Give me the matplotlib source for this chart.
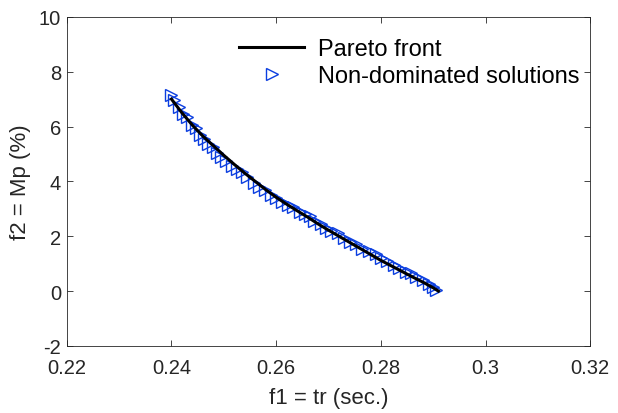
import numpy as np
import matplotlib.pyplot as plt

plt.rcParams['font.family'] = ['Liberation Sans', 'DejaVu Sans']
plt.rcParams['axes.unicode_minus'] = False

# pareto front (black line)
front_f1 = [0.240, 0.242, 0.244, 0.246, 0.248, 0.250, 0.252, 0.254, 0.256, 0.258,
            0.260, 0.262, 0.264, 0.266, 0.268, 0.270, 0.272, 0.274, 0.276, 0.278,
            0.280, 0.282, 0.284, 0.286, 0.288, 0.290, 0.291]
front_f2 = [7.00, 6.50, 6.05, 5.65, 5.30, 4.95, 4.62, 4.30, 4.00, 3.70,
            3.42, 3.17, 2.93, 2.70, 2.45, 2.22, 2.00, 1.78, 1.56, 1.34,
            1.12, 0.92, 0.72, 0.52, 0.33, 0.12, 0.00]

# non-dominated solutions (blue triangles)
sol_f1 = [0.2400, 0.2405, 0.2415, 0.2422, 0.2430, 0.2440, 0.2447, 0.2455, 0.2462, 0.2470,
          0.2480, 0.2488, 0.2495, 0.2505, 0.2515, 0.2525, 0.2535, 0.2545, 0.2558, 0.2568,
          0.2578, 0.2590, 0.2600, 0.2612, 0.2622, 0.2632, 0.2645, 0.2655, 0.2665, 0.2672,
          0.2685, 0.2695, 0.2705, 0.2718, 0.2730, 0.2742, 0.2752, 0.2765, 0.2778, 0.2790,
          0.2800, 0.2812, 0.2825, 0.2835, 0.2848, 0.2858, 0.2868, 0.2880, 0.2892, 0.2900,
          0.2905]
sol_f2 = [7.15, 6.95, 6.70, 6.45, 6.35, 6.05, 5.95, 5.70, 5.55, 5.35,
          5.25, 5.05, 4.90, 4.75, 4.55, 4.45, 4.35, 4.15, 3.95, 3.80,
          3.70, 3.50, 3.40, 3.25, 3.15, 3.05, 2.90, 2.80, 2.75, 2.55,
          2.45, 2.30, 2.20, 2.10, 1.95, 1.80, 1.70, 1.55, 1.45, 1.35,
          1.20, 1.10, 0.95, 0.85, 0.70, 0.65, 0.50, 0.40, 0.25, 0.15,
          0.05]

xticks = [0.22, 0.24, 0.26, 0.28, 0.3, 0.32]
xtick_labels = ['0.22', '0.24', '0.26', '0.28', '0.3', '0.32']
yticks = [-2, 0, 2, 4, 6, 8, 10]

fig = plt.figure(figsize=(6.18, 4.14), dpi=100)
ax = fig.add_axes([0.108, 0.162, 0.847, 0.795])

ax.plot(front_f1, front_f2, color='black', lw=2.2, label='Pareto front', zorder=3)
ax.plot(sol_f1, sol_f2, ls='none', marker='>', ms=9, mfc='none', mec='#0b3ee0',
        mew=1.0, label='Non-dominated solutions', zorder=2)

ax.set_xlim(0.22, 0.32)
ax.set_ylim(-2, 10)
ax.set_xticks(xticks)
ax.set_xticklabels(xtick_labels)
ax.set_yticks(yticks)
ax.tick_params(direction='in', top=True, right=True, length=4, width=0.6,
               labelsize=14.5, colors='#262626', pad=4)
ax.tick_params(axis='x', pad=9)
for s in ax.spines.values():
    s.set_linewidth(0.6)
    s.set_color('#262626')

ax.set_xlabel('f1 = tr (sec.)', fontsize=16, color='#262626', labelpad=7)
ax.set_ylabel('f2 = Mp (%)', fontsize=16, color='#262626', labelpad=6)

ax.legend(loc='upper right', bbox_to_anchor=(0.98, 0.935), frameon=False,
          fontsize=17, handlelength=2.75, borderpad=0, borderaxespad=0,
          labelspacing=0.2, handletextpad=0.6)

fig.savefig('out.png', dpi=100)
